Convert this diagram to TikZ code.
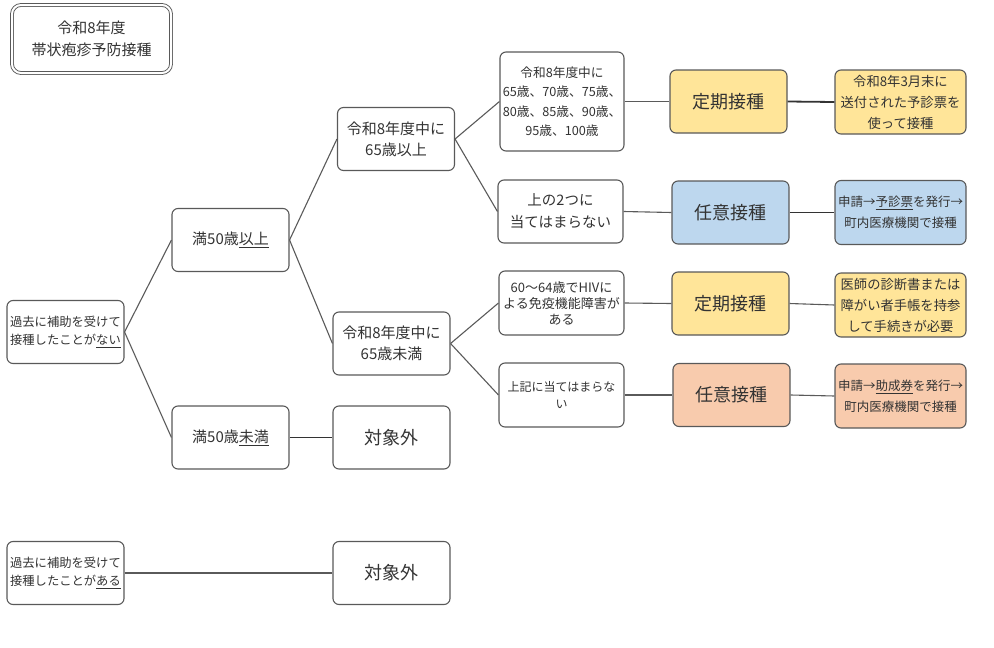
\documentclass[tikz,border=0pt]{standalone}
\usepackage{fontspec}
\setmainfont{Noto Sans CJK JP}
\begin{document}
\begin{tikzpicture}[x=1pt,y=-1pt,
  box/.style={draw=boxc, line width=1.1pt, rounded corners=6pt, fill=white, align=center,
    text=txt, inner sep=1pt, minimum width=117pt, minimum height=63pt, font=\fontsize{15}{21}\selectfont},
  small/.style={font=\fontsize{12.3}{18}\selectfont},
  big/.style={font=\fontsize{18}{22}\selectfont},
  note/.style={box, minimum width=131pt, minimum height=64pt, font=\fontsize{13.3}{21}\selectfont},
  conn/.style={draw=linec, line width=1.1pt},
  thick conn/.style={draw=black!80, line width=1.8pt}]
\definecolor{boxc}{HTML}{595959}
\definecolor{linec}{HTML}{5A5A5A}
\definecolor{txt}{HTML}{333333}
\definecolor{yel}{HTML}{FFE599}
\definecolor{blu}{HTML}{BDD7EE}
\definecolor{ora}{HTML}{F8CBAD}
\useasboundingbox (0,0) rectangle (994,648);

\node[box, double, double distance=2pt, line width=0.9pt, rounded corners=9pt, minimum width=159pt, minimum height=68pt, font=\fontsize{15}{22}\selectfont] (title) at (91.5,39) {令和8年度\\帯状疱疹予防接種};

\node[box, small] (r1) at (65.5,332) {過去に補助を受けて\\接種したことが\underline{ない}};
\node[box, small] (r2) at (65.5,573) {過去に補助を受けて\\接種したことが\underline{ある}};

\node[box] (a) at (230.5,240) {満50歳\underline{以上}};
\node[box] (b) at (230.5,437.5) {満50歳\underline{未満}};
\node[box] (c) at (396,139) {令和8年度中に\\65歳以上};
\node[box] (d) at (391.5,343.5) {令和8年度中に\\65歳未満};
\node[box, big] (e) at (391.5,437.5) {対象外};
\node[box, big] (rr) at (391.5,573) {対象外};

\node[box, minimum width=124pt, minimum height=99pt, font=\fontsize{12.7}{19.5}\selectfont] (f) at (562,101.5) {令和8年度中に\\65歳、70歳、75歳、\\80歳、85歳、90歳、\\95歳、100歳};
\node[box, minimum width=125pt, font=\fontsize{14.5}{22}\selectfont] (g) at (560.5,211.5) {上の2つに\\当てはまらない};
\node[box, minimum width=125pt, minimum height=64pt, font=\fontsize{13}{16}\selectfont] (h) at (561.5,303) {60～64歳でHIVに\\よる免疫機能障害が\\ある};
\node[box, minimum width=125pt, minimum height=64pt, font=\fontsize{12}{17}\selectfont] (i) at (561.5,395) {上記に当てはまらな\\い};

\node[box, big, fill=yel] (j) at (728.5,101.5) {定期接種};
\node[box, big, fill=blu] (k) at (730.5,212.5) {任意接種};
\node[box, big, fill=yel] (l) at (730.5,303.5) {定期接種};
\node[box, big, fill=ora] (m) at (731.5,395) {任意接種};

\node[note, fill=yel] (n) at (900.5,102) {令和8年3月末に\\送付された予診票を\\使って接種};
\node[note, fill=blu, font=\fontsize{12.5}{21}\selectfont] (o) at (900.5,212.5) {申請→\underline{予診票}を発行→\\町内医療機関で接種};
\node[note, fill=yel] (p) at (900.5,305) {医師の診断書または\\障がい者手帳を持参\\して手続きが必要};
\node[note, fill=ora, font=\fontsize{12.5}{21}\selectfont] (q) at (900.5,396) {申請→\underline{助成券}を発行→\\町内医療機関で接種};

\draw[conn] (r1.east) -- (a.west);
\draw[conn] (r1.east) -- (b.west);
\draw[conn] (a.east) -- (c.west);
\draw[conn] (a.east) -- (d.west);
\draw[thick conn] (b.east) -- (e.west);
\draw[conn] (c.east) -- (f.west);
\draw[conn] (c.east) -- (g.west);
\draw[conn] (d.east) -- (h.west);
\draw[conn] (d.east) -- (i.west);
\draw[conn] (f.east) -- (j.west);
\draw[conn] (g.east) -- (k.west);
\draw[conn] (h.east) -- (l.west);
\draw[conn] (i.east) -- (m.west);
\draw[thick conn] (j.east) -- (n.west);
\draw[thick conn] (k.east) -- (o.west);
\draw[conn] (l.east) -- (p.west);
\draw[conn] (m.east) -- (q.west);
\draw[conn] (r2.east) -- (rr.west);
\end{tikzpicture}
\end{document}
